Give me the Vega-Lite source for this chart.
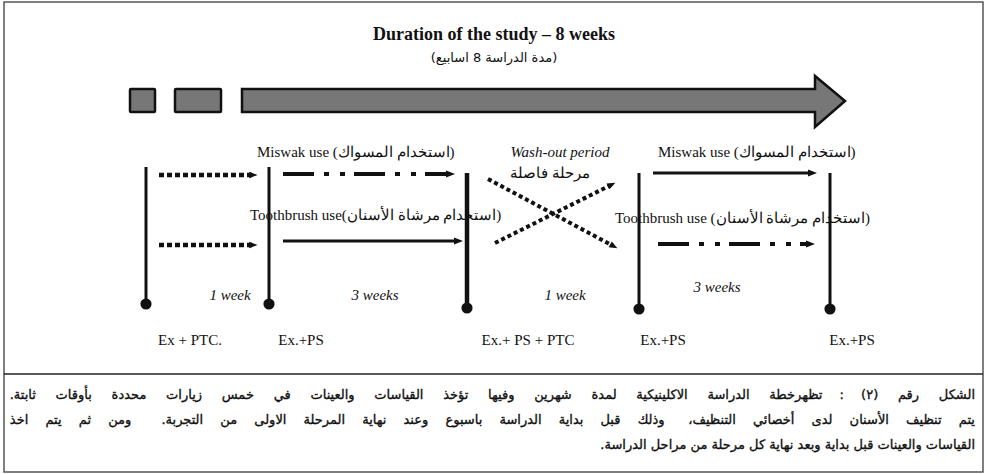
{
  "$schema": "https://vega.github.io/schema/vega-lite/v6.json",
  "width": 986,
  "height": 474,
  "autosize": {"type": "fit", "contains": "padding"},
  "padding": 0,
  "background": "white",
  "config": {"view": {"stroke": null}},
  "datasets": {
    "frame": [{"x": 4, "x2": 983, "y": 2, "y2": 472}],
    "separator": [{"x": 4, "x2": 983, "y": 374}],
    "boxes": [
      {"x": 130, "x2": 155, "y": 89, "y2": 112},
      {"x": 175, "x2": 221, "y": 89, "y2": 112}
    ],
    "bigArrow": [
      {"x": 242, "y": 89, "y2": 112},
      {"x": 815, "y": 89, "y2": 112},
      {"x": 815, "y": 76, "y2": 127},
      {"x": 845, "y": 101, "y2": 101}
    ],
    "visits": [
      {"visit": "V1", "x": 146, "y": 167, "y2": 304, "bold": "no"},
      {"visit": "V2", "x": 269, "y": 167, "y2": 304, "bold": "no"},
      {"visit": "V3", "x": 467, "y": 173, "y2": 308, "bold": "yes"},
      {"visit": "V4", "x": 639, "y": 173, "y2": 309, "bold": "no"},
      {"visit": "V5", "x": 830, "y": 173, "y2": 309, "bold": "no"}
    ],
    "leadin": [
      {"x": 159, "y": 175, "x2": 252, "y2": 175},
      {"x": 159, "y": 245, "x2": 252, "y2": 245}
    ],
    "washout": [
      {"dir": "down", "x": 488, "y": 179, "x2": 612.6, "y2": 245.6},
      {"dir": "up", "x": 495, "y": 243, "x2": 610.5, "y2": 185.2}
    ],
    "phases": [
      {"style": "dashdot", "x": 283, "y": 174, "x2": 449, "y2": 174},
      {"style": "solid", "x": 283, "y": 241, "x2": 457, "y2": 241},
      {"style": "solid", "x": 653, "y": 173, "x2": 811, "y2": 173},
      {"style": "dashdot", "x": 658, "y": 244, "x2": 809, "y2": 244}
    ],
    "leftLabels": [
      {"x": 257, "y": 152, "text": "Miswak use  (استخدام المسواك)"},
      {"x": 250, "y": 215, "text": "Toothbrush  use(استخدام مرشاة الأسنان)"},
      {"x": 658, "y": 152, "text": "Miswak use (استخدام المسواك)"},
      {"x": 615, "y": 218, "text": "Toothbrush  use (استخدام مرشاة الأسنان)"}
    ],
    "italicLabels": [
      {"x": 560, "y": 152, "text": "Wash-out period"},
      {"x": 230, "y": 295, "text": "1 week"},
      {"x": 375, "y": 295, "text": "3 weeks"},
      {"x": 565, "y": 295, "text": "1 week"},
      {"x": 717, "y": 287, "text": "3 weeks"}
    ],
    "centerLabels": [
      {"x": 550, "y": 173, "text": "مرحلة فاصلة"},
      {"x": 190, "y": 340, "text": "Ex + PTC."},
      {"x": 301, "y": 340, "text": "Ex.+PS"},
      {"x": 528, "y": 340, "text": "Ex.+ PS + PTC"},
      {"x": 663, "y": 340, "text": "Ex.+PS"},
      {"x": 852, "y": 340, "text": "Ex.+PS"}
    ],
    "title": [{"x": 494, "y": 35, "text": "Duration of the study – 8 weeks"}],
    "subtitle": [{"x": 494, "y": 58, "text": "(مدة الدراسة 8 اسابيع)"}],
    "caption": [
      {"x": 975, "y": 395, "text": "\u202Bالشكل \u2003\u2009رقم \u2003\u2009(٢) \u2003: \u2003تظهرخطة \u2003\u2009الدراسة \u2003\u2009الاكلينيكية \u2003\u2009لمدة \u2003\u2009شهرين \u2003\u2009وفيها \u2003\u2009تؤخذ \u2003\u2009القياسات \u2003\u2009والعينات \u2003\u2009في \u2003\u2009خمس \u2003\u2009زيارات \u2003\u2009محددة \u2003\u2009بأوقات \u2003\u2009ثابتة.\u202C"},
      {"x": 975, "y": 420, "text": "\u202Bيتم \u2003تنظيف \u2003الأسنان \u2003لدى \u2003أخصائي \u2003التنظيف، \u2003\u2002وذلك \u2003قبل \u2003بداية \u2003الدراسة \u2003باسبوع \u2003وعند \u2003نهاية \u2003المرحلة \u2003الاولى \u2003من \u2003التجربة. \u2003\u2003ومن \u2003ثم \u2003يتم \u2003اخذ\u202C"},
      {"x": 975, "y": 445, "text": "\u202Bالقياسات والعينات قبل بداية وبعد نهاية كل مرحلة من مراحل الدراسة.\u202C"}
    ]
  },
  "encoding": {
    "x": {"field": "x", "type": "quantitative", "scale": {"domain": [0, 986], "nice": false, "zero": false}, "axis": null},
    "y": {"field": "y", "type": "quantitative", "scale": {"domain": [0, 474], "nice": false, "zero": false, "reverse": true}, "axis": null}
  },
  "layer": [
    {
      "data": {"name": "frame"},
      "mark": {"type": "rect", "filled": false, "color": "#555", "strokeWidth": 1.5},
      "encoding": {"x2": {"field": "x2"}, "y2": {"field": "y2"}}
    },
    {
      "data": {"name": "separator"},
      "mark": {"type": "rule", "color": "#222", "strokeWidth": 1.5},
      "encoding": {"x2": {"field": "x2"}}
    },
    {
      "data": {"name": "boxes"},
      "mark": {"type": "rect", "fill": "#777777", "stroke": "#111", "strokeWidth": 2.5, "cornerRadius": 1},
      "encoding": {"x2": {"field": "x2"}, "y2": {"field": "y2"}}
    },
    {
      "data": {"name": "bigArrow"},
      "mark": {"type": "area", "fill": "#777777", "stroke": "#111", "strokeWidth": 2.5, "strokeJoin": "miter"},
      "encoding": {"y2": {"field": "y2"}}
    },
    {
      "data": {"name": "visits"},
      "mark": {"type": "rule", "color": "#111"},
      "encoding": {
        "y2": {"field": "y2"},
        "strokeWidth": {"field": "bold", "type": "nominal", "scale": {"domain": ["no", "yes"], "range": [3, 4.5]}, "legend": null}
      }
    },
    {
      "data": {"name": "visits"},
      "mark": {"type": "point", "filled": true, "color": "#111", "size": 125, "opacity": 1, "shape": "circle"},
      "encoding": {
        "y": {"field": "y2", "type": "quantitative", "scale": {"domain": [0, 474], "nice": false, "zero": false, "reverse": true}, "axis": null}
      }
    },
    {
      "data": {"name": "leadin"},
      "mark": {"type": "rule", "color": "#111", "strokeWidth": 4.5, "strokeDash": [5, 3]},
      "encoding": {"x2": {"field": "x2"}, "y2": {"field": "y2"}}
    },
    {
      "data": {"name": "leadin"},
      "mark": {"type": "point", "filled": true, "color": "#111", "opacity": 1, "size": 30, "shape": "M 2 0 L -1 -1.2 L -1 1.2 Z"},
      "encoding": {
        "x": {"field": "x2", "type": "quantitative", "scale": {"domain": [0, 986], "nice": false, "zero": false}, "axis": null},
        "y": {"field": "y2", "type": "quantitative", "scale": {"domain": [0, 474], "nice": false, "zero": false, "reverse": true}, "axis": null}
      }
    },
    {
      "data": {"name": "washout"},
      "mark": {"type": "rule", "color": "#111", "strokeWidth": 4, "strokeDash": [4, 3]},
      "encoding": {"x2": {"field": "x2"}, "y2": {"field": "y2"}}
    },
    {
      "data": {"name": "washout"},
      "transform": [{"filter": "datum.dir === 'down'"}],
      "mark": {"type": "point", "filled": true, "color": "#111", "opacity": 1, "size": 30, "angle": 28, "shape": "M 2 0 L -1 -1.2 L -1 1.2 Z"},
      "encoding": {
        "x": {"field": "x2", "type": "quantitative", "scale": {"domain": [0, 986], "nice": false, "zero": false}, "axis": null},
        "y": {"field": "y2", "type": "quantitative", "scale": {"domain": [0, 474], "nice": false, "zero": false, "reverse": true}, "axis": null}
      }
    },
    {
      "data": {"name": "washout"},
      "transform": [{"filter": "datum.dir === 'up'"}],
      "mark": {"type": "point", "filled": true, "color": "#111", "opacity": 1, "size": 30, "angle": 333.4, "shape": "M 2 0 L -1 -1.2 L -1 1.2 Z"},
      "encoding": {
        "x": {"field": "x2", "type": "quantitative", "scale": {"domain": [0, 986], "nice": false, "zero": false}, "axis": null},
        "y": {"field": "y2", "type": "quantitative", "scale": {"domain": [0, 474], "nice": false, "zero": false, "reverse": true}, "axis": null}
      }
    },
    {
      "data": {"name": "phases"},
      "transform": [{"filter": "datum.style === 'solid'"}],
      "mark": {"type": "rule", "color": "#111", "strokeWidth": 3},
      "encoding": {"x2": {"field": "x2"}, "y2": {"field": "y2"}}
    },
    {
      "data": {"name": "phases"},
      "transform": [{"filter": "datum.style === 'dashdot'"}],
      "mark": {"type": "rule", "color": "#111", "strokeWidth": 4, "strokeDash": [31, 10, 5, 11, 5, 9]},
      "encoding": {"x2": {"field": "x2"}, "y2": {"field": "y2"}}
    },
    {
      "data": {"name": "phases"},
      "mark": {"type": "point", "filled": true, "color": "#111", "opacity": 1, "size": 36, "shape": "M 2 0 L -1 -1.2 L -1 1.2 Z"},
      "encoding": {
        "x": {"field": "x2", "type": "quantitative", "scale": {"domain": [0, 986], "nice": false, "zero": false}, "axis": null},
        "y": {"field": "y2", "type": "quantitative", "scale": {"domain": [0, 474], "nice": false, "zero": false, "reverse": true}, "axis": null}
      }
    },
    {
      "data": {"name": "title"},
      "mark": {"type": "text", "font": "Liberation Serif", "fontSize": 18, "fontWeight": "bold", "color": "#111", "align": "center", "baseline": "middle"},
      "encoding": {"text": {"field": "text"}}
    },
    {
      "data": {"name": "subtitle"},
      "mark": {"type": "text", "font": "DejaVu Sans", "fontSize": 13, "color": "#111", "align": "center", "baseline": "middle"},
      "encoding": {"text": {"field": "text"}}
    },
    {
      "data": {"name": "leftLabels"},
      "mark": {"type": "text", "font": "Liberation Serif", "fontSize": 15, "color": "#111", "align": "left", "baseline": "middle"},
      "encoding": {"text": {"field": "text"}}
    },
    {
      "data": {"name": "italicLabels"},
      "mark": {"type": "text", "font": "Liberation Serif", "fontSize": 15, "fontStyle": "italic", "color": "#111", "align": "center", "baseline": "middle"},
      "encoding": {"text": {"field": "text"}}
    },
    {
      "data": {"name": "centerLabels"},
      "mark": {"type": "text", "font": "Liberation Serif", "fontSize": 15, "color": "#111", "align": "center", "baseline": "middle"},
      "encoding": {"text": {"field": "text"}}
    },
    {
      "data": {"name": "caption"},
      "mark": {"type": "text", "font": "DejaVu Sans", "fontSize": 13, "color": "#111", "stroke": "#111", "strokeWidth": 0.35, "align": "right", "baseline": "middle"},
      "encoding": {"text": {"field": "text"}}
    }
  ]
}
